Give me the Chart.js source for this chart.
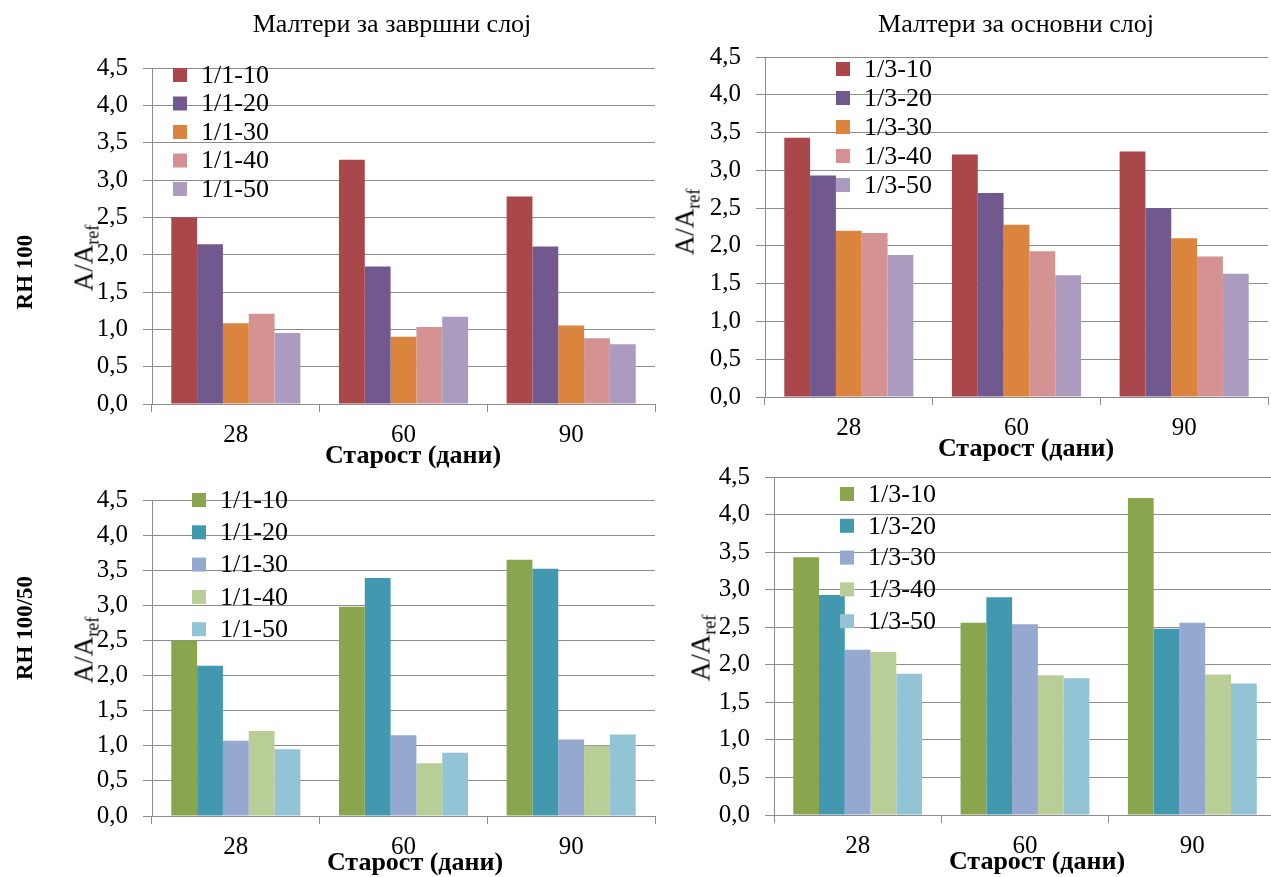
<!DOCTYPE html>
<html>
<head>
<meta charset="utf-8">
<script src="https://cdn.jsdelivr.net/npm/chart.js@4/dist/chart.umd.min.js"></script>
<style>
  html, body { margin: 0; padding: 0; background: #fff; overflow: hidden; }
  body { width: 1271px; height: 877px; position: relative; font-family: "Liberation Serif", "Times New Roman", serif; color: #000; }
  canvas { position: absolute; }
  .lbl { position: absolute; white-space: nowrap; transform: translate(-50%, -50%); line-height: 1; }
  .rot { transform: translate(-50%, -50%) rotate(-90deg); }
  .title { font-size: 26px; }
  .xt { font-size: 26px; font-weight: bold; }
  .yt { font-size: 27px; }
  .yt sub { font-size: 18px; vertical-align: -6px; }
  .row { font-size: 23px; font-weight: bold; }
</style>
</head>
<body>
<canvas id="c1" width="660" height="470" style="left:0;top:0"></canvas>
<canvas id="c2" width="658" height="470" style="left:613px;top:0"></canvas>
<canvas id="c3" width="660" height="407" style="left:0;top:470px"></canvas>
<canvas id="c4" width="656" height="437" style="left:620px;top:440px"></canvas>

<div class="lbl title" style="left:392px;top:24px">Малтери за завршни слој</div>
<div class="lbl title" style="left:1016px;top:24px">Малтери за основни слој</div>

<div class="lbl rot row" style="left:24px;top:272px">RH 100</div>
<div class="lbl rot row" style="left:24px;top:628px">RH 100/50</div>

<div class="lbl rot yt" style="left:86px;top:258px">A/A<sub>ref</sub></div>
<div class="lbl rot yt" style="left:687px;top:222px">A/A<sub>ref</sub></div>
<div class="lbl rot yt" style="left:86px;top:650px">A/A<sub>ref</sub></div>
<div class="lbl rot yt" style="left:703px;top:648px">A/A<sub>ref</sub></div>

<div class="lbl xt" style="left:413px;top:455px">Старост (дани)</div>
<div class="lbl xt" style="left:1026px;top:448px">Старост (дани)</div>
<div class="lbl xt" style="left:415px;top:862px">Старост (дани)</div>
<div class="lbl xt" style="left:1037px;top:861px">Старост (дани)</div>

<script>
// Age of the mortar samples (days)
const ageDays = ['28', '60', '90'];

// Finishing-coat mortars (1/1), RH 100
const finishLabels = ['1/1-10', '1/1-20', '1/1-30', '1/1-40', '1/1-50'];
const finishRh100_10 = [2.50, 3.27, 2.78];
const finishRh100_20 = [2.14, 1.84, 2.11];
const finishRh100_30 = [1.08, 0.90, 1.05];
const finishRh100_40 = [1.21, 1.03, 0.88];
const finishRh100_50 = [0.95, 1.17, 0.80];

// Base-coat mortars (1/3), RH 100
const baseLabels = ['1/3-10', '1/3-20', '1/3-30', '1/3-40', '1/3-50'];
const baseRh100_10 = [3.43, 3.21, 3.25];
const baseRh100_20 = [2.93, 2.70, 2.50];
const baseRh100_30 = [2.20, 2.28, 2.10];
const baseRh100_40 = [2.17, 1.93, 1.86];
const baseRh100_50 = [1.88, 1.61, 1.63];

// Finishing-coat mortars (1/1), RH 100/50
const finishRh50_10 = [2.50, 2.98, 3.65];
const finishRh50_20 = [2.14, 3.39, 3.52];
const finishRh50_30 = [1.07, 1.15, 1.09];
const finishRh50_40 = [1.21, 0.75, 1.00];
const finishRh50_50 = [0.95, 0.90, 1.16];

// Base-coat mortars (1/3), RH 100/50
const baseRh50_10 = [3.43, 2.56, 4.22];
const baseRh50_20 = [2.93, 2.90, 2.48];
const baseRh50_30 = [2.20, 2.54, 2.56];
const baseRh50_40 = [2.17, 1.86, 1.87];
const baseRh50_50 = [1.88, 1.82, 1.75];

// Value axis ticks
const yMin = 0, yMax = 4.5, yStep = 0.5;

const warmColors = ['#A9474A', '#71598F', '#DB843D', '#D49392', '#AA9BBF'];
const coolColors = ['#89A54E', '#4198AF', '#95A9D0', '#B9CE96', '#93C4D5'];
const gridColor = '#8c8c8c';
const FONT = '"Liberation Serif", "Times New Roman", serif';

// Legend drawn as a vertical list inside the plot area
const insideLegend = {
  id: 'insideLegend',
  afterDatasetsDraw(chart, args, opts) {
    const { ctx, chartArea } = chart;
    ctx.save();
    ctx.font = opts.size + 'px ' + FONT;
    ctx.textBaseline = 'middle';
    ctx.textAlign = 'left';
    chart.data.datasets.forEach((ds, i) => {
      const x = chartArea.left + opts.dx;
      const y = chartArea.top + opts.dy + i * opts.step;
      ctx.fillStyle = ds.backgroundColor;
      ctx.fillRect(x, y - 7, 14, 14);
      ctx.fillStyle = '#000';
      ctx.fillText(ds.label, x + 28, y + 1);
    });
    ctx.restore();
  }
};

function buildChart(id, labels, seriesValues, colors, geo) {
  new Chart(document.getElementById(id), {
    type: 'bar',
    data: {
      labels: ageDays,
      datasets: seriesValues.map((vals, i) => ({
        label: labels[i],
        data: vals,
        backgroundColor: colors[i],
        borderWidth: 0,
        categoryPercentage: 0.77,
        barPercentage: 1.0
      }))
    },
    options: {
      responsive: false,
      animation: false,
      events: [],
      layout: { padding: { top: geo.top, right: geo.right, left: 0, bottom: 0 } },
      plugins: {
        legend: { display: false },
        tooltip: { enabled: false },
        insideLegend: geo.legend
      },
      scales: {
        x: {
          grid: { offset: true, drawOnChartArea: false, tickLength: 8, color: gridColor, lineWidth: 1 },
          border: { color: gridColor, width: 1 },
          ticks: { color: '#000', font: { family: FONT, size: 25 }, padding: 8 },
          afterFit: s => { s.height = geo.xh; }
        },
        y: {
          min: yMin,
          max: yMax,
          grid: { color: gridColor, tickLength: 9, lineWidth: 1 },
          border: { color: gridColor, width: 1 },
          ticks: {
            stepSize: yStep,
            color: '#000',
            font: { family: FONT, size: 25 },
            padding: 15,
            callback: v => v.toFixed(1).replace('.', ',')
          },
          afterFit: s => { s.width = geo.yw; }
        }
      }
    },
    plugins: [insideLegend]
  });
}

function drawAll() {
  buildChart('c1', finishLabels,
    [finishRh100_10, finishRh100_20, finishRh100_30, finishRh100_40, finishRh100_50],
    warmColors,
    { top: 68, right: 5, xh: 66, yw: 152, legend: { dx: 21, dy: 7, step: 28.5, size: 26 } });

  buildChart('c2', baseLabels,
    [baseRh100_10, baseRh100_20, baseRh100_30, baseRh100_40, baseRh100_50],
    warmColors,
    { top: 57, right: 3, xh: 73, yw: 152, legend: { dx: 71, dy: 12, step: 29, size: 26 } });

  buildChart('c3', finishLabels,
    [finishRh50_10, finishRh50_20, finishRh50_30, finishRh50_40, finishRh50_50],
    coolColors,
    { top: 27, right: 5, xh: 61, yw: 152, legend: { dx: 40, dy: 0, step: 32.3, size: 26 } });

  buildChart('c4', baseLabels,
    [baseRh50_10, baseRh50_20, baseRh50_30, baseRh50_40, baseRh50_50],
    coolColors,
    { top: 37, right: 0, xh: 62, yw: 154, legend: { dx: 66, dy: 17, step: 31.8, size: 26 } });
}

if (document.fonts && document.fonts.load) {
  Promise.all([
    document.fonts.load('25px "Liberation Serif"'),
    document.fonts.load('bold 25px "Liberation Serif"')
  ]).then(drawAll, drawAll);
} else {
  drawAll();
}
</script>
</body>
</html>
